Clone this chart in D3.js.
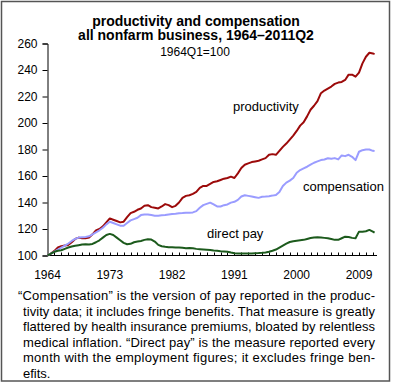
<!DOCTYPE html>
<html><head><meta charset="utf-8">
<script src="https://cdn.jsdelivr.net/npm/d3@7"></script>
<style>body{margin:0;background:#fff}svg{display:block}text{font-family:"Liberation Sans",Arial,Helvetica,sans-serif;fill:#000}</style>
</head><body><svg id="c" width="393" height="384"></svg>
<script>
const times = [1964,1964.5,1965,1965.5,1966,1966.5,1967,1967.5,1968,1968.5,1969,1969.5,1970,1970.5,1971,1971.5,1972,1972.5,1973,1973.5,1974,1974.5,1975,1975.5,1976,1976.5,1977,1977.5,1978,1978.5,1979,1979.5,1980,1980.5,1981,1981.5,1982,1982.5,1983,1983.5,1984,1984.5,1985,1985.5,1986,1986.5,1987,1987.5,1988,1988.5,1989,1989.5,1990,1990.5,1991,1991.5,1992,1992.5,1993,1993.5,1994,1994.5,1995,1995.5,1996,1996.5,1997,1997.5,1998,1998.5,1999,1999.5,2000,2000.5,2001,2001.5,2002,2002.5,2003,2003.5,2004,2004.5,2005,2005.5,2006,2006.5,2007,2007.5,2008,2008.5,2009,2009.5,2010,2010.5,2011,2011.25];
const productivity = [100,101.5,103.5,106,107,107.5,108,110,112.5,113.5,113,113,113.5,116,119,120,122,125,128,127,126,125,125.5,129,132,133,134.5,135.5,137.5,138,136.5,136,135.5,137,138.8,138,136.5,137.5,140,143.5,145,145.5,146.5,148,151,152.5,152.5,154,155.5,156,157,158,158.5,159.5,158.5,162,166,168.5,169.5,170.5,171,171.5,172.5,173.5,176,176.5,176,179,182,184.5,187.5,190.5,194,198,200.5,205,210,213,216.5,222.5,224.5,226,227.5,229.5,230.5,231,232.5,236.5,236.5,235,238,245,250,253,252.5,252];
const compensation = [100,101.5,103,104.5,106,107.5,109,111,112.5,113.5,113.8,114,114.5,116,117.5,119,121,123.5,125.5,124.5,123.5,122.5,122.5,124.5,126.5,127.5,128.5,130.5,131,131,130.5,130,130,130.3,130.6,131,131.3,131.5,131.8,132,132.3,132.3,132.5,133.5,136,138,139,139.9,138.5,137,137,138,138.5,139.9,140.5,142,144.5,145.5,145,144.5,144,143.5,144.3,144.5,144.8,145.2,145.7,148,152.5,155,156.5,158.5,162.5,164.5,165.8,167,168.5,170,171,172,172.5,173.4,173,173.5,172.5,175.5,175,176,174.5,172,178.3,179.5,180,180,179,178.8];
const directPay = [100,101.5,102.8,103.6,104,105,106,106.8,107.3,107.8,108.3,108.5,108.3,108.7,110,111.5,113.5,115.5,116.3,115.5,113.5,111.5,109.5,108.5,108.8,110,110.5,111,111.8,112.3,112,110.5,108,107,106.6,106.3,106.2,106,106,105.8,105.5,105.6,105.4,105,104.8,104.6,104.4,104.2,103.8,103.5,103.2,103,102.8,102.2,101.7,101.6,101.5,101.6,101.5,101.6,101.7,101.8,102,102.3,102.8,103.6,104.5,106,107.5,109,110.2,110.8,111.2,111.5,111.8,112.5,113.2,113.6,113.8,113.6,113.3,113,112.5,111.8,111.8,113,114.2,114,113.3,113,118,118,118.3,119.3,118,117.2];
const yTicks = [100,120,140,160,180,200,220,240,260];
const xLabelYears = [1964,1973,1982,1991,2000,2009];
const titleLines = ["productivity and compensation","all nonfarm business, 1964\u20132011Q2"];
const subtitle = "1964Q1=100";
const seriesNames = ["productivity","compensation","direct pay"];
const captionLines = ["\u201cCompensation\u201d is the version of pay reported in the produc-","tivity data; it includes fringe benefits. That measure is greatly","flattered by health insurance premiums, bloated by relentless","medical inflation. \u201cDirect pay\u201d is the measure reported every","month with the employment figures; it excludes fringe ben-","efits."];

const svg = d3.select("#c");
svg.append("rect").attr("x",1.5).attr("y",1.5).attr("width",388).attr("height",379.5)
  .attr("fill","#fff").attr("stroke","#555").attr("stroke-width",1.5);

const x = d3.scaleLinear().domain([1964,2011.6]).range([47.5,377]);
const y = d3.scaleLinear().domain([100,260]).range([255.5,43.5]);

// title
svg.selectAll("text.title").data(titleLines).join("text").attr("class","title")
  .attr("x",196).attr("y",(d,i)=>25.5+i*14.5).attr("text-anchor","middle")
  .style("font-size","14px").style("font-weight","bold").text(d=>d);
svg.append("text").attr("x",195).attr("y",56).attr("text-anchor","middle")
  .style("font-size","12px").text(subtitle);

// y axis
const ya = svg.append("g").attr("transform","translate(47.5,0)")
  .call(d3.axisLeft(y).tickValues(yTicks).tickSize(5).tickPadding(5).tickFormat(d3.format("d")));
ya.selectAll("text").style("font-size","12px").style("font-family","Liberation Sans, Arial, sans-serif");
ya.select(".domain").attr("stroke","#000");

// x axis: yearly ticks upward
const years = d3.range(1965,2012);
const xa = svg.append("g").attr("transform","translate(0,255.5)");
xa.append("line").attr("x1",x(1964)).attr("x2",x(2011.6)).attr("y1",0).attr("y2",0).attr("stroke","#000");
xa.selectAll("line.t").data(years).join("line").attr("class","t")
  .attr("x1",d=>Math.round(x(d))+0.5).attr("x2",d=>Math.round(x(d))+0.5).attr("y1",0).attr("y2",-3).attr("stroke","#000");
xa.selectAll("text").data(xLabelYears).join("text").attr("x",d=>x(d)).attr("y",23)
  .attr("text-anchor","middle").style("font-size","12px").text(d=>d);

// lines
const series = [
  {name:seriesNames[0], vals:productivity, color:"#9c0a0a"},
  {name:seriesNames[1], vals:compensation, color:"#9a9cff"},
  {name:seriesNames[2], vals:directPay, color:"#1c5a1c"}
];
const line = d3.line().x(d=>x(d[0])).y(d=>y(d[1]));
svg.selectAll("path.s").data(series).join("path").attr("class","s")
  .attr("d",s=>line(times.map((t,i)=>[t,s.vals[i]])))
  .attr("fill","none").attr("stroke",s=>s.color).attr("stroke-width",2).attr("stroke-linejoin","round");

// series labels
const labelPos = [[233,111],[303,191],[207,238]];
svg.selectAll("text.lab").data(seriesNames).join("text").attr("class","lab")
  .attr("x",(d,i)=>labelPos[i][0]).attr("y",(d,i)=>labelPos[i][1])
  .style("font-size","13px").text(d=>d);

// caption
svg.selectAll("text.cap").data(captionLines).join("text").attr("class","cap")
  .attr("x",(d,i)=>i===0?18:23).attr("y",(d,i)=>300+i*15.6)
  .style("font-size","13px")
  .each(function(d,i){ if(i<5){ d3.select(this).attr("textLength",i===0?357:352).attr("lengthAdjust","spacing"); } })
  .text(d=>d);
</script></body></html>
